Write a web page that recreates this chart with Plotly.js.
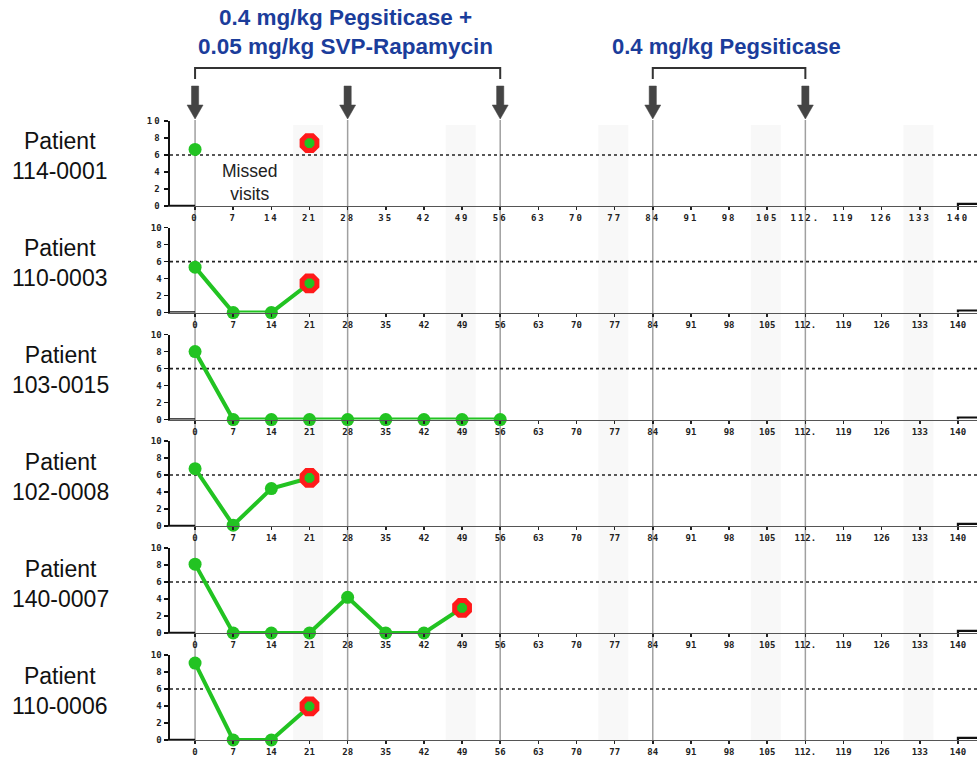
<!DOCTYPE html>
<html>
<head>
<meta charset="utf-8">
<script src="https://cdn.plot.ly/plotly-3.0.1.min.js"></script>
<style>
html,body{margin:0;padding:0;background:#fff;}
#chart{width:977px;height:765px;}
#chart .xtick text, #chart .ytick text{letter-spacing:2px;}
</style>
</head>
<body>
<div id="chart"></div>
<script>
// ---------------- DATA ----------------
const patientIds = ["114-0001", "110-0003", "103-0015", "102-0008", "140-0007", "110-0006"];

const days1 = [0, 7, 14, 21];
const vals1 = [6.65, null, null, 7.4];
const days2 = [0, 7, 14, 21];
const vals2 = [5.35, 0, 0, 3.45];
const days3 = [0, 7, 14, 21, 28, 35, 42, 49, 56];
const vals3 = [8.0, 0, 0, 0, 0, 0, 0, 0, 0];
const days4 = [0, 7, 14, 21];
const vals4 = [6.75, 0.1, 4.4, 5.65];
const days5 = [0, 7, 14, 21, 28, 35, 42, 49];
const vals5 = [8.1, 0, 0, 0, 4.2, 0, 0, 2.95];
const days6 = [0, 7, 14, 21];
const vals6 = [9.05, 0, 0, 3.95];

// day of the flagged (red-ringed) visit per patient, null if none
const flaggedDays = [21, 21, null, 21, 49, 21];

const threshold = 6;

const tickVals = [0, 7, 14, 21, 28, 35, 42, 49, 56, 63, 70, 77, 84, 91, 98, 105, 112, 119, 126, 133, 140];
const tickLabels = ["0", "7", "14", "21", "28", "35", "42", "49", "56", "63", "70", "77", "84", "91", "98", "105", "112.", "119", "126", "133", "140"];
const yTickVals = [0, 2, 4, 6, 8, 10];

const comboDoseDays = [0, 28, 56];
const pegDoseDays = [84, 112];
const shadedDays = [21, 49, 77, 105, 133];

const comboLabel = "0.4 mg/kg Pegsiticase +<br>0.05 mg/kg SVP-Rapamycin";
const pegLabel = "0.4 mg/kg Pegsiticase";
const missedLabel = "Missed<br>visits";

// ---------------- STYLE / LAYOUT ----------------
const W = 977, H = 765;
const plotLeftPx = 170;
const xRange = [-4.6, 143.5];
const panelTopsPx = [121, 227.6, 334.6, 441, 548, 655];
const panelHeightPx = 85;
const green = "#22c322";
const red = "#ff1a1a";
const blue = "#1b3d9b";
const dark = "#444444";

const py = p => 1 - p / H;

const allDays = [days1, days2, days3, days4, days5, days6];
const allVals = [vals1, vals2, vals3, vals4, vals5, vals6];

const traces = [];
const layout = {
  width: W, height: H,
  margin: {l: 0, r: 0, t: 0, b: 0},
  paper_bgcolor: "#ffffff",
  plot_bgcolor: "rgba(0,0,0,0)",
  showlegend: false,
  shapes: [],
  annotations: [],
  font: {family: "Liberation Sans, Arial, sans-serif", color: "#111"}
};

// shaded bands spanning all panels
const bandTopPx = 125, bandBotPx = 740;
shadedDays.forEach(d => {
  layout.shapes.push({
    type: "rect", xref: "x", yref: "paper",
    x0: d - 3, x1: d + 2.5, y0: py(bandBotPx), y1: py(bandTopPx),
    fillcolor: "#f8f8f8", line: {width: 0}, layer: "below"
  });
});

// vertical dose lines
const doseDays = comboDoseDays.concat(pegDoseDays);
doseDays.forEach(d => {
  layout.shapes.push({
    type: "line", xref: "x", yref: "paper",
    x0: d, x1: d, y0: py(740), y1: py(120),
    line: {color: "#a0a0a0", width: 1.5}, layer: "below"
  });
});

const tickFont = {family: "DejaVu Sans Mono, monospace", size: 9, color: "#222", weight: "bold"};

for (let i = 0; i < 6; i++) {
  const n = i + 1;
  const xa = n === 1 ? "x" : "x" + n;
  const ya = n === 1 ? "y" : "y" + n;
  const top = panelTopsPx[i], bot = top + panelHeightPx;

  layout["xaxis" + (n === 1 ? "" : n)] = {
    domain: [plotLeftPx / W, 1],
    range: xRange,
    anchor: ya,
    showgrid: false, zeroline: false,
    showline: true, linecolor: "#555", linewidth: 1.3,
    ticks: "outside", ticklen: 3, tickwidth: 1.5, tickcolor: "#222",
    tickvals: tickVals, ticktext: tickLabels,
    tickfont: tickFont,
    fixedrange: true
  };
  layout["yaxis" + (n === 1 ? "" : n)] = {
    domain: [py(bot), py(top)],
    range: [0, 10],
    anchor: xa,
    showgrid: false, zeroline: false,
    showline: true, linecolor: "#111", linewidth: 2.5,
    ticks: "outside", ticklen: 4, tickwidth: 1.5, tickcolor: "#111",
    tickvals: yTickVals,
    tickfont: tickFont,
    fixedrange: true
  };

  // threshold dotted reference line (trace, so it sits above the bands)
  traces.push({
    type: "scatter", mode: "lines",
    x: xRange, y: [threshold, threshold],
    xaxis: xa, yaxis: ya,
    line: {color: "#222", width: 1.6, dash: "dot"},
    hoverinfo: "skip"
  });

  // main series
  traces.push({
    type: "scatter", mode: "lines+markers",
    x: allDays[i], y: allVals[i],
    xaxis: xa, yaxis: ya,
    connectgaps: false,
    cliponaxis: false,
    line: {color: green, width: 4},
    marker: {color: green, size: 13},
    hoverinfo: "x+y"
  });

  // flagged visit
  const fd = flaggedDays[i];
  if (fd !== null) {
    const idx = allDays[i].indexOf(fd);
    traces.push({
      type: "scatter", mode: "markers",
      x: [fd], y: [allVals[i][idx]],
      xaxis: xa, yaxis: ya,
      cliponaxis: false,
      marker: {symbol: "octagon", color: green, size: 16, line: {color: red, width: 5}},
      hoverinfo: "x+y"
    });
  }

  // thick axis segment left of day 0
  layout.shapes.push({
    type: "line", xref: xa, yref: ya,
    x0: xRange[0], x1: tickVals[0], y0: 0, y1: 0,
    line: {color: "#111", width: 2.5}, layer: "above"
  });
  // step at the right end
  const last = tickVals[tickVals.length - 1];
  layout.shapes.push({
    type: "path", xref: xa, yref: ya,
    path: `M ${last},0 L ${last},0.25 L ${xRange[1]},0.25`,
    line: {color: "#111", width: 2.2}, layer: "above"
  });

  // patient label
  layout.annotations.push({
    xref: "paper", yref: "paper",
    x: 60 / W, y: py((top + bot) / 2 - 7),
    text: "Patient<br>" + patientIds[i],
    showarrow: false, xanchor: "center", yanchor: "middle",
    font: {family: "Liberation Sans, Arial, sans-serif", size: 23, color: "#111"}
  });
}

// dose arrows
const pxPerDay = (W - plotLeftPx) / (xRange[1] - xRange[0]);
const shaftHalf = 3.6 / pxPerDay, headHalf = 8 / pxPerDay;
const arrowTop = py(86), headStart = py(105), tip = py(119);
doseDays.forEach(d => {
  layout.shapes.push({
    type: "path", xref: "x", yref: "paper",
    path: `M ${d - shaftHalf},${arrowTop} L ${d + shaftHalf},${arrowTop} L ${d + shaftHalf},${headStart} L ${d + headHalf},${headStart} L ${d},${tip} L ${d - headHalf},${headStart} L ${d - shaftHalf},${headStart} Z`,
    fillcolor: dark, line: {color: dark, width: 0.5}
  });
});

// brackets
function bracket(days) {
  const a = days[0], b = days[days.length - 1];
  layout.shapes.push({
    type: "path", xref: "x", yref: "paper",
    path: `M ${a},${py(79)} L ${a},${py(68)} L ${b},${py(68)} L ${b},${py(79)}`,
    line: {color: "#333", width: 2}
  });
}
bracket(comboDoseDays);
bracket(pegDoseDays);

// regimen labels
layout.annotations.push({
  xref: "paper", yref: "paper", x: 345 / W, y: py(32),
  text: "<b>" + comboLabel + "</b>", showarrow: false,
  xanchor: "center", yanchor: "middle",
  font: {family: "Liberation Sans, Arial, sans-serif", size: 22.5, color: blue}
});
layout.annotations.push({
  xref: "paper", yref: "paper", x: 726 / W, y: py(46),
  text: "<b>" + pegLabel + "</b>", showarrow: false,
  xanchor: "center", yanchor: "middle",
  font: {family: "Liberation Sans, Arial, sans-serif", size: 22, color: blue}
});

// missed visits note
layout.annotations.push({
  xref: "paper", yref: "paper", x: 249 / W, y: py(182),
  text: missedLabel, showarrow: false,
  xanchor: "center", yanchor: "middle",
  font: {family: "Liberation Sans, Arial, sans-serif", size: 17.5, color: "#222"}
});

Plotly.newPlot("chart", traces, layout, {displayModeBar: false, staticPlot: true});
</script>
</body>
</html>
